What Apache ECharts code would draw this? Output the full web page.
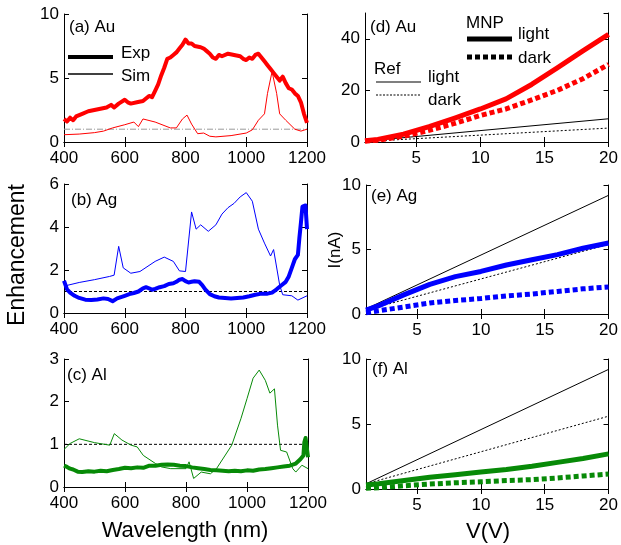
<!DOCTYPE html>
<html><head><meta charset="utf-8">
<script src="https://cdn.jsdelivr.net/npm/echarts@6/dist/echarts.min.js"></script>
<style>html,body{margin:0;padding:0;background:#fff}#c{width:621px;height:545px}</style>
</head><body><div id="c"></div>
<script>
// ---------- data ----------
const auExpWl = [400,410,420,430,440,460,480,500,520,540,555,565,580,600,610,620,640,660,680,690,700,710,720,730,740,750,760,770,780,790,800,810,820,830,850,860,870,880,890,900,910,920,940,960,980,990,1000,1010,1020,1030,1040,1050,1060,1070,1080,1090,1100,1110,1120,1130,1140,1150,1160,1170,1180,1190,1200];
const auExp = [1.8,1.6,1.9,1.7,2.0,2.2,2.4,2.5,2.6,2.7,2.9,2.7,3.0,3.3,3.1,3.0,3.1,3.2,3.6,3.5,4.0,4.5,5.2,5.8,6.5,6.6,6.8,7.0,7.3,7.6,8.0,7.7,7.7,7.5,7.4,7.3,7.1,6.9,6.6,6.5,6.8,6.7,6.9,6.8,6.7,6.5,6.4,6.6,6.5,6.8,6.9,6.6,6.3,6.0,5.7,5.4,5.1,4.8,5.1,4.6,4.2,4.1,3.8,3.6,3.1,2.2,1.5];
const auSimWl = [400,450,500,530,560,600,630,645,660,700,750,770,790,805,820,840,860,880,900,950,1000,1020,1040,1060,1070,1085,1100,1110,1130,1160,1180,1200];
const auSim = [0.57,0.62,0.73,0.85,1.1,1.35,1.56,1.2,1.8,1.56,1.1,1.1,1.8,2.1,1.4,0.65,0.7,0.45,0.4,0.5,0.7,0.95,1.7,2.2,3.8,5.5,3.8,2.2,1.7,1.0,0.85,1.0];

const agExpWl = [400,405,410,420,435,450,470,490,510,530,545,560,575,590,600,615,630,645,660,670,680,690,700,715,730,745,760,770,780,790,800,810,820,830,845,855,865,880,895,910,930,950,970,990,1010,1030,1050,1070,1085,1100,1115,1130,1140,1150,1160,1170,1175,1180,1185,1190,1195,1200];
const agExp = [1.5,1.3,1.1,0.95,0.8,0.7,0.62,0.6,0.63,0.68,0.65,0.55,0.68,0.75,0.8,0.88,0.93,1.0,1.15,1.2,1.15,1.08,1.12,1.2,1.25,1.35,1.38,1.45,1.55,1.58,1.48,1.42,1.45,1.48,1.45,1.3,1.1,0.88,0.78,0.72,0.7,0.68,0.7,0.72,0.78,0.85,0.9,0.9,0.95,1.1,1.28,1.45,1.7,2.1,2.5,2.7,3.5,4.2,4.95,5.0,5.0,3.9];
const agSimWl = [400,450,500,550,565,580,595,620,650,700,730,760,780,800,820,835,850,875,900,920,940,960,980,1000,1020,1040,1060,1080,1090,1110,1120,1150,1170,1200];
const agSim = [1.25,1.42,1.55,1.7,1.76,3.1,2.1,1.85,1.93,2.4,2.6,2.4,1.96,1.93,4.7,3.9,4.1,3.8,4.1,4.6,4.9,5.1,5.4,5.6,5.2,3.9,3.25,2.65,2.95,1.3,0.85,0.8,0.6,0.8];

const alExpWl = [400,410,420,430,445,460,480,500,520,540,560,580,600,620,640,660,680,700,720,740,760,780,800,820,840,860,880,900,920,940,960,980,1000,1020,1040,1060,1080,1100,1120,1140,1160,1175,1185,1188,1192,1196,1200];
const alExp = [0.5,0.47,0.43,0.41,0.36,0.35,0.37,0.36,0.38,0.37,0.4,0.42,0.45,0.44,0.46,0.45,0.5,0.5,0.52,0.53,0.52,0.5,0.49,0.46,0.44,0.42,0.4,0.39,0.38,0.37,0.38,0.37,0.39,0.38,0.41,0.42,0.44,0.46,0.48,0.5,0.55,0.65,0.74,1.05,1.15,1.12,0.7];
const alSimWl = [400,420,450,500,550,565,590,620,640,660,700,720,750,800,810,825,850,880,900,950,980,1000,1020,1040,1060,1075,1090,1100,1110,1130,1150,1160,1180,1200];
const alSim = [0.88,1.02,1.13,1.04,0.98,1.25,1.1,0.98,0.94,0.74,0.55,0.47,0.43,0.43,0.59,0.2,0.35,0.31,0.43,0.98,1.6,2.07,2.55,2.74,2.5,2.2,2.3,1.45,0.86,0.82,0.43,0.35,0.51,0.43];

const refWl = [400,1200];
const refLevel = [1,1];

const volts = [1,2,4,6,8,10,12,14,16,18,20];
const refVolts = [1,20];
const auMnpLight = [0.5,1.0,3.0,6.0,9.3,12.8,16.7,22.3,28.7,35.3,41.7];
const auMnpDark  = [0.3,0.7,2.2,4.5,7.2,10.3,12.8,16.3,20.0,24.5,30.1];
const auRefLight = [0.3,9.0];
const auRefDark  = [0.2,5.4];
const agMnpLight = [0.3,0.65,1.5,2.3,2.9,3.3,3.8,4.2,4.6,5.1,5.5];
const agMnpDark  = [0.1,0.25,0.55,0.85,1.05,1.2,1.4,1.55,1.75,1.95,2.1];
const agRefLight = [0.4,9.2];
const agRefDark  = [0.3,5.4];
const alMnpLight = [0.3,0.4,0.65,0.9,1.1,1.3,1.5,1.75,2.05,2.35,2.7];
const alMnpDark  = [0.05,0.1,0.25,0.38,0.48,0.55,0.65,0.72,0.85,1.0,1.15];
const alRefLight = [0.4,9.2];
const alRefDark  = [0.4,5.6];

const wlTicks = [400,600,800,1000,1200];
const vTicks = [5,10,15,20];

// ---------- chart ----------
const FONT = "'Liberation Sans', Arial, sans-serif";
const RED = '#ff0000', BLUE = '#0000ff', GREEN = '#078a07';
const grids = [
  {left:64, top:14, width:243, height:128},
  {left:64, top:184, width:243, height:129},
  {left:64, top:359, width:244, height:128},
  {left:365, top:13, width:246, height:129},
  {left:366, top:185, width:244, height:129},
  {left:366, top:359, width:244, height:130}
];
const yCfg = [
  {min:0,max:10,interval:5},
  {min:0,max:6,interval:2},
  {min:0,max:3,interval:1},
  {min:0,max:50,interval:20,hideMax:true},
  {min:0,max:10,interval:5},
  {min:0,max:10,interval:5}
];
const fmt = v => String(v);
const xAxes = [], yAxes = [];
const lineStyleAxis = {show:true, lineStyle:{color:'#000', width:1}};
grids.forEach((g,i)=>{
  const isV = i>=3;
  const base = isV ? {min:1,max:20} : {min:400,max:1200,interval:200};
  const tick = {show:true, inside:true, length:5, lineStyle:{color:'#000'}};
  const lab = {show:true, color:'#000', fontSize:17, fontFamily:FONT, margin:8, formatter:fmt};
  if (isV) { tick.customValues = vTicks; lab.customValues = vTicks; }
  else { tick.customValues = wlTicks; lab.customValues = wlTicks; }
  xAxes.push(Object.assign({type:'value', gridIndex:i, position:'bottom', axisLine:lineStyleAxis,
    axisTick:tick, axisLabel:Object.assign({}, lab, {showMinLabel:true, showMaxLabel:true}), splitLine:{show:false}}, base));
  xAxes.push(Object.assign({type:'value', gridIndex:i, position:'top', axisLine:lineStyleAxis,
    axisTick:Object.assign({}, tick), axisLabel:Object.assign({}, lab, {show:false}), splitLine:{show:false}}, base));
  const y = yCfg[i];
  const ylab = {show:true, color:'#000', fontSize:17, fontFamily:FONT, margin:5, formatter:fmt};
  if (y.hideMax) ylab.showMaxLabel = false;
  yAxes.push({type:'value', gridIndex:i, position:'left', min:y.min, max:y.max, interval:y.interval,
    axisLine:lineStyleAxis, axisTick:{show:true, inside:true, length:5, lineStyle:{color:'#000'}}, axisLabel:ylab, splitLine:{show:false}});
  yAxes.push({type:'value', gridIndex:i, position:'right', min:y.min, max:y.max, interval:y.interval,
    axisLine:lineStyleAxis, axisTick:{show:true, inside:true, length:5, lineStyle:{color:'#000'}}, axisLabel:{show:false}, splitLine:{show:false}});
});

function zip(xs, ys){ return xs.map((x,k)=>[x, ys[k]]); }
function line(panel, xs, ys, color, width, type){
  return {type:'line', xAxisIndex:panel*2, yAxisIndex:panel*2, data:zip(xs,ys), showSymbol:false, symbol:'none',
    silent:true, animation:false, lineStyle:{color:color, width:width, type:type||'solid', cap:'butt', join:'round'}};
}
const series = [
  line(0, refWl, refLevel, '#9a9a9a', 1, [6,2,1,2]),
  line(0, auSimWl, auSim, RED, 1),
  line(0, auExpWl, auExp, RED, 4),
  line(1, refWl, refLevel, '#000', 1, [3,2]),
  line(1, agSimWl, agSim, BLUE, 1),
  line(1, agExpWl, agExp, BLUE, 4),
  line(2, refWl, refLevel, '#000', 1, [3,2]),
  line(2, alSimWl, alSim, GREEN, 1),
  line(2, alExpWl, alExp, GREEN, 4),
  line(3, refVolts, auRefLight, '#000', 1),
  line(3, refVolts, auRefDark, '#000', 1, [2,2]),
  line(3, volts, auMnpDark, RED, 5, [5,3]),
  line(3, volts, auMnpLight, RED, 5),
  line(4, refVolts, agRefLight, '#000', 1),
  line(4, refVolts, agRefDark, '#000', 1, [2,2]),
  line(4, volts, agMnpDark, BLUE, 5, [5,3]),
  line(4, volts, agMnpLight, BLUE, 5),
  line(5, refVolts, alRefLight, '#000', 1),
  line(5, refVolts, alRefDark, '#000', 1, [2,2]),
  line(5, volts, alMnpDark, GREEN, 5, [5,3]),
  line(5, volts, alMnpLight, GREEN, 5)
];

function txt(x,y,s,size,extra){ return Object.assign({type:'text', x:x, y:y, style:{text:s, font:size+'px '+FONT, fill:'#000', textVerticalAlign:'middle'}}, extra||{}); }
function seg(x1,y1,x2,y2,w,dash){ return {type:'line', shape:{x1:x1,y1:y1,x2:x2,y2:y2}, style:{stroke:'#000', lineWidth:w, lineDash:dash||null}}; }
const graphic = [
  txt(69,27,'(a) Au',17), txt(71,200,'(b) Ag',17), txt(67,375,'(c) Al',17),
  txt(370,27,'(d) Au',17), txt(371,196,'(e) Ag',17), txt(372,369,'(f) Al',17),
  seg(68,57,113,57,4), txt(121,53,'Exp',17),
  seg(68,74,113,74,1.5), txt(121,76,'Sim',17),
  txt(466,23,'MNP',17), seg(467,39,512,39,5), txt(518,34,'light',17),
  seg(467,57,512,57,5,[5,3]), txt(518,58,'dark',17),
  txt(374,69,'Ref',17), seg(376,82,421,82,1.2), txt(428,77,'light',17),
  seg(376,95,421,95,1.2,[2,1.5]), txt(428,100,'dark',17),
  {type:'text', x:18, y:255, rotation:Math.PI/2, style:{text:'Enhancement', font:'23px '+FONT, fill:'#000', align:'center', verticalAlign:'middle'}},
  {type:'text', x:335, y:250, rotation:Math.PI/2, style:{text:'I(nA)', font:'17px '+FONT, fill:'#000', align:'center', verticalAlign:'middle'}},
  {type:'text', x:185, y:531, style:{text:'Wavelength (nm)', font:'22px '+FONT, fill:'#000', align:'center', verticalAlign:'middle'}},
  {type:'text', x:488, y:532, style:{text:'V(V)', font:'22px '+FONT, fill:'#000', align:'center', verticalAlign:'middle'}}
];

const chart = echarts.init(document.getElementById('c'), null, {renderer:'canvas'});
chart.setOption({animation:false, backgroundColor:'#fff', grid:grids, xAxis:xAxes, yAxis:yAxes, series:series, graphic:graphic});
</script>
</body></html>
